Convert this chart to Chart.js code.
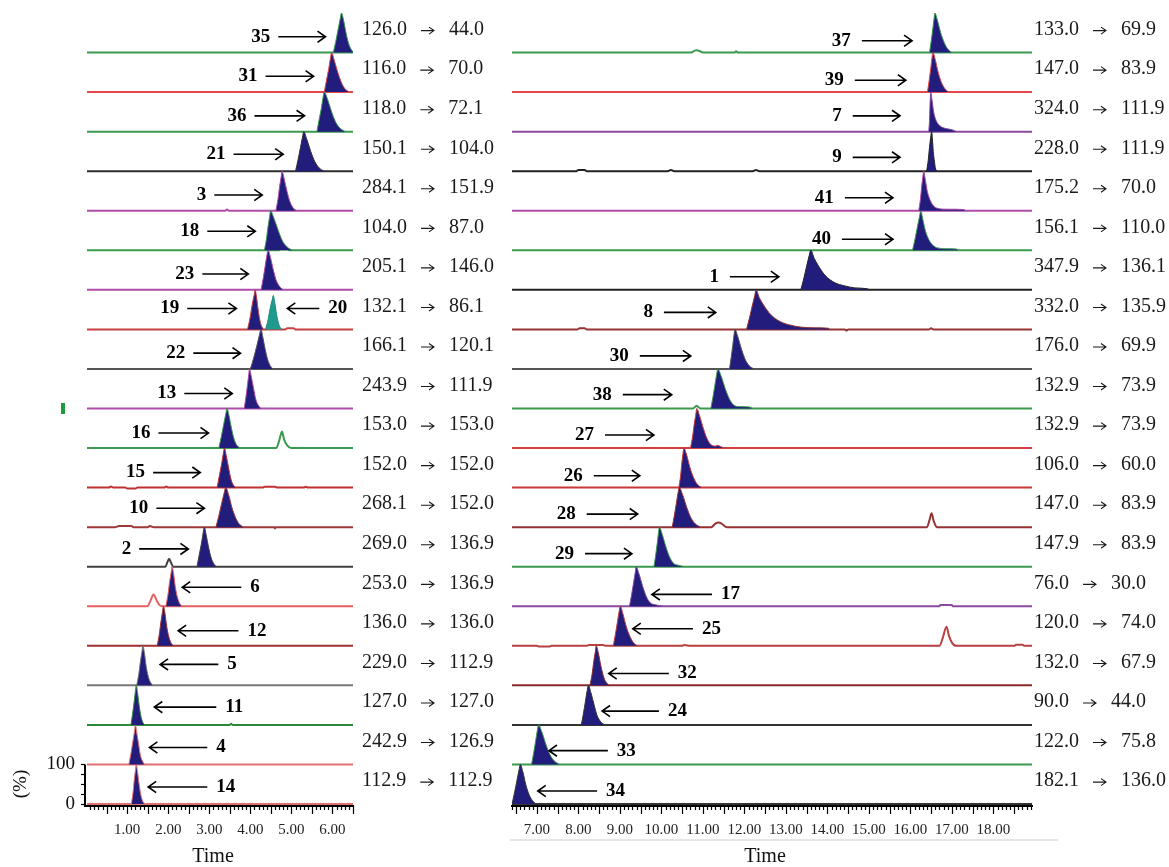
<!DOCTYPE html>
<html>
<head>
<meta charset="utf-8">
<title>MRM chromatograms</title>
<script src="https://cdn.jsdelivr.net/npm/chart.js@4.4.1/dist/chart.umd.min.js"></script>
<style>
  html, body { margin: 0; padding: 0; background: #fff; overflow: hidden; }
  #wrap { position: relative; width: 1169px; height: 867px; }
  #wrap canvas { position: absolute; left: 0; top: 0; }
</style>
</head>
<body>
<div id="wrap">
  <canvas id="leftChart" width="1169" height="867"></canvas>
  <canvas id="rightChart" width="1169" height="867"></canvas>
</div>
<script>
// all trace lists run top to bottom

// ---- left panel ----
const leftCompounds = ['35', '31', '36', '21', '3', '18', '23', '19', '22', '13', '16', '15', '10', '2', '6', '12', '5', '11', '4', '14'];
const leftPrecursor = ['126.0', '116.0', '118.0', '150.1', '284.1', '104.0', '205.1', '132.1', '166.1', '243.9', '153.0', '152.0', '268.1', '269.0', '253.0', '136.0', '229.0', '127.0', '242.9', '112.9'];
const leftProduct = ['44.0', '70.0', '72.1', '104.0', '151.9', '87.0', '146.0', '86.1', '120.1', '111.9', '153.0', '152.0', '152.0', '136.9', '136.9', '136.0', '112.9', '127.0', '126.9', '112.9'];
const leftTimeTicks = [1, 2, 3, 4, 5, 6];

// [time (min), relative intensity (%)]
const leftPeaks = [
    [[6.02, 0], [6.08, 28], [6.14, 60], [6.19, 86], [6.22, 100], [6.27, 82], [6.33, 50], [6.39, 24], [6.45, 9], [6.52, 0]],   // 35
    [[5.80, 0], [5.85, 28], [5.91, 60], [5.95, 86], [5.98, 100], [6.04, 82], [6.13, 50], [6.22, 24], [6.30, 9], [6.41, 0]],   // 31
    [[5.62, 0], [5.67, 28], [5.73, 60], [5.77, 86], [5.80, 100], [5.88, 82], [5.98, 50], [6.08, 24], [6.18, 9], [6.31, 0]],   // 36
    [[5.10, 0], [5.16, 28], [5.22, 60], [5.27, 86], [5.30, 100], [5.37, 82], [5.47, 50], [5.57, 24], [5.67, 9], [5.79, 0]],   // 21
    [[4.62, 0], [4.67, 28], [4.71, 60], [4.75, 86], [4.77, 100], [4.82, 82], [4.89, 50], [4.96, 24], [5.03, 9], [5.12, 0]],   // 3
    [[4.34, 0], [4.39, 28], [4.43, 60], [4.47, 86], [4.49, 100], [4.57, 82], [4.68, 50], [4.78, 24], [4.89, 9], [5.02, 0]],   // 18
    [[4.26, 0], [4.31, 28], [4.36, 60], [4.40, 86], [4.43, 100], [4.49, 82], [4.56, 50], [4.63, 24], [4.71, 9], [4.80, 0]],   // 23
    [[3.93, 0], [3.99, 28], [4.04, 60], [4.09, 86], [4.12, 100], [4.15, 82], [4.19, 50], [4.23, 24], [4.27, 9], [4.32, 0]],   // 19
    [[4.00, 0], [4.08, 28], [4.16, 60], [4.22, 86], [4.26, 100], [4.30, 82], [4.36, 50], [4.42, 24], [4.48, 9], [4.55, 0]],   // 22
    [[3.85, 0], [3.89, 28], [3.93, 60], [3.96, 86], [3.98, 100], [4.02, 82], [4.08, 50], [4.13, 24], [4.19, 9], [4.26, 0]],   // 13
    [[3.23, 0], [3.29, 28], [3.35, 60], [3.40, 86], [3.43, 100], [3.48, 82], [3.54, 50], [3.60, 24], [3.66, 9], [3.74, 0]],   // 16
    [[3.19, 0], [3.24, 28], [3.30, 60], [3.34, 86], [3.37, 100], [3.41, 82], [3.47, 50], [3.52, 24], [3.57, 9], [3.64, 0]],   // 15
    [[3.16, 0], [3.23, 28], [3.30, 60], [3.36, 86], [3.40, 100], [3.47, 82], [3.55, 50], [3.64, 24], [3.72, 9], [3.83, 0]],   // 10
    [[2.70, 0], [2.75, 28], [2.81, 60], [2.85, 86], [2.88, 100], [2.92, 82], [2.98, 50], [3.04, 24], [3.10, 9], [3.17, 0]],   // 2
    [[1.94, 0], [1.99, 28], [2.03, 60], [2.07, 86], [2.09, 100], [2.13, 82], [2.17, 50], [2.22, 24], [2.27, 9], [2.33, 0]],   // 6
    [[1.73, 0], [1.78, 28], [1.82, 60], [1.86, 86], [1.88, 100], [1.92, 82], [1.96, 50], [2.01, 24], [2.06, 9], [2.12, 0]],   // 12
    [[1.23, 0], [1.28, 28], [1.32, 60], [1.36, 86], [1.38, 100], [1.42, 82], [1.46, 50], [1.51, 24], [1.56, 9], [1.62, 0]],   // 5
    [[1.09, 0], [1.13, 28], [1.17, 60], [1.20, 86], [1.22, 100], [1.25, 82], [1.29, 50], [1.33, 24], [1.37, 9], [1.42, 0]],   // 11
    [[1.04, 0], [1.09, 28], [1.14, 60], [1.18, 86], [1.20, 100], [1.23, 82], [1.28, 50], [1.32, 24], [1.37, 9], [1.42, 0]],   // 4
    [[1.10, 0], [1.14, 28], [1.17, 60], [1.20, 86], [1.22, 100], [1.25, 82], [1.29, 50], [1.33, 24], [1.37, 9], [1.42, 0]]    // 14
];
// compound 20 shares the 132.1 -> 86.1 trace with 19
const peak20 = [[4.37, 0], [4.43, 24], [4.48, 52], [4.53, 74], [4.56, 86], [4.59, 70], [4.63, 43], [4.67, 21], [4.71, 8], [4.76, 0]];
const peak20Trace = 7;

// small baseline features (unfilled)
const leftBumps = [
    [], [], [], [],
    [[3.38, 0], [3.43, 3], [3.48, 0]],
    [[4.70, 0], [4.72, 2], [4.92, 2], [4.94, 0]],
    [],
    [[4.85, 0], [4.90, 3], [5.05, 3], [5.10, 0]],
    [], [],
    [[4.63, 0], [4.70, 18], [4.77, 42], [4.82, 22], [4.90, 6], [5.00, 0]],
    [[0.55, 0], [0.60, 3], [0.66, 0], [0.95, 0], [1.00, -2], [1.20, -2], [1.25, 0], [1.90, 0], [1.95, 3], [2.00, 0], [4.30, 0], [4.35, 2], [4.60, 2], [4.65, 0], [5.30, 0], [5.35, 2], [5.40, 0]],
    [[0.70, 0], [0.80, 3], [1.10, 3], [1.15, 0], [1.50, 0], [1.55, 3], [1.65, 0], [4.58, 0], [4.60, -3], [4.62, 0]],
    [[1.93, 0], [1.98, 12], [2.02, 20], [2.06, 12], [2.12, 0]],
    [[1.49, 0], [1.57, 15], [1.64, 30], [1.72, 14], [1.80, 2], [1.88, 0]],
    [], [],
    [[3.49, 0], [3.53, 3], [3.57, 0]],
    [], []
];

// ---- right panel ----
const rightCompounds = ['37', '39', '7', '9', '41', '40', '1', '8', '30', '38', '27', '26', '28', '29', '17', '25', '32', '24', '33', '34'];
const rightPrecursor = ['133.0', '147.0', '324.0', '228.0', '175.2', '156.1', '347.9', '332.0', '176.0', '132.9', '132.9', '106.0', '147.0', '147.9', '76.0', '120.0', '132.0', '90.0', '122.0', '182.1'];
const rightProduct = ['69.9', '83.9', '111.9', '111.9', '70.0', '110.0', '136.1', '135.9', '69.9', '73.9', '73.9', '60.0', '83.9', '83.9', '30.0', '74.0', '67.9', '44.0', '75.8', '136.0'];
const rightTimeTicks = [7, 8, 9, 10, 11, 12, 13, 14, 15, 16, 17, 18];

const rightPeaks = [
    [[16.46, 0], [16.50, 28], [16.54, 60], [16.57, 86], [16.59, 100], [16.65, 82], [16.73, 50], [16.82, 24], [16.90, 9], [17.00, 0]],   // 37
    [[16.41, 0], [16.45, 28], [16.49, 60], [16.52, 86], [16.54, 100], [16.60, 82], [16.67, 50], [16.75, 24], [16.83, 9], [16.92, 0]],   // 39
    [[16.44, 0], [16.46, 28], [16.47, 60], [16.48, 86], [16.49, 100], [16.52, 80], [16.56, 50], [16.62, 28], [16.72, 14], [16.85, 8], [17.00, 5], [17.11, 0]],   // 7
    [[16.39, 0], [16.43, 28], [16.46, 60], [16.49, 86], [16.51, 100], [16.53, 82], [16.55, 50], [16.58, 24], [16.60, 9], [16.63, 0]],   // 9
    [[16.20, 0], [16.24, 28], [16.27, 60], [16.30, 86], [16.32, 100], [16.36, 78], [16.41, 48], [16.48, 26], [16.56, 12], [16.66, 6], [16.90, 4], [17.30, 3], [17.32, 0]],   // 41
    [[16.05, 0], [16.11, 28], [16.17, 60], [16.22, 86], [16.25, 100], [16.30, 78], [16.36, 50], [16.44, 28], [16.54, 13], [16.66, 6], [16.90, 4], [17.12, 3], [17.15, 0]],   // 40
    [[13.36, 0], [13.43, 28], [13.50, 60], [13.56, 86], [13.60, 100], [13.68, 80], [13.77, 63], [13.94, 37], [14.18, 18], [14.42, 10], [14.66, 5], [14.95, 3], [15.02, 0]],   // 1
    [[12.05, 0], [12.12, 28], [12.19, 60], [12.25, 86], [12.28, 100], [12.36, 80], [12.46, 62], [12.63, 38], [12.86, 20], [13.10, 11], [13.35, 6], [13.70, 4], [14.03, 3], [14.05, 0]],   // 8
    [[11.64, 0], [11.68, 28], [11.72, 60], [11.75, 86], [11.77, 100], [11.84, 82], [11.93, 50], [12.02, 24], [12.11, 9], [12.23, 0]],   // 30
    [[11.19, 0], [11.24, 28], [11.29, 60], [11.33, 86], [11.36, 100], [11.44, 82], [11.54, 50], [11.64, 24], [11.74, 9], [11.86, 5], [12.16, 3], [12.18, 0]],   // 38
    [[10.70, 0], [10.75, 28], [10.79, 60], [10.83, 86], [10.85, 100], [10.92, 82], [11.01, 50], [11.10, 24], [11.19, 9], [11.30, 5], [11.36, 7], [11.42, 4], [11.52, 0]],   // 27
    [[10.42, 0], [10.46, 28], [10.49, 60], [10.52, 86], [10.54, 100], [10.61, 82], [10.69, 50], [10.78, 24], [10.86, 9], [10.97, 0]],   // 26
    [[10.26, 0], [10.31, 28], [10.36, 60], [10.40, 86], [10.43, 100], [10.51, 82], [10.61, 50], [10.71, 24], [10.81, 9], [10.94, 0]],   // 28
    [[9.82, 0], [9.86, 28], [9.90, 60], [9.93, 86], [9.95, 100], [10.02, 82], [10.11, 50], [10.20, 24], [10.29, 9], [10.40, 4], [10.55, 0]],   // 29
    [[9.23, 0], [9.28, 28], [9.33, 60], [9.37, 86], [9.39, 100], [9.46, 82], [9.55, 50], [9.64, 24], [9.73, 9], [9.85, 4], [10.05, 0]],   // 17
    [[8.84, 0], [8.89, 28], [8.94, 60], [8.98, 86], [9.01, 100], [9.07, 82], [9.15, 50], [9.24, 24], [9.32, 9], [9.42, 0]],   // 25
    [[8.28, 0], [8.33, 28], [8.37, 60], [8.41, 86], [8.43, 100], [8.48, 82], [8.54, 50], [8.60, 24], [8.66, 9], [8.74, 0]],   // 32
    [[8.07, 0], [8.12, 28], [8.17, 60], [8.21, 86], [8.24, 100], [8.30, 82], [8.38, 50], [8.45, 24], [8.53, 9], [8.63, 0]],   // 24
    [[6.87, 0], [6.92, 28], [6.97, 60], [7.01, 86], [7.04, 100], [7.12, 82], [7.22, 50], [7.32, 24], [7.42, 9], [7.55, 0]],   // 33
    [[6.40, 0], [6.46, 28], [6.52, 60], [6.57, 86], [6.60, 100], [6.66, 82], [6.73, 50], [6.81, 24], [6.89, 9], [6.98, 0]]    // 34
];

const rightBumps = [
    [[10.72, 0], [10.80, 5], [10.85, 6], [10.92, 4], [11.00, 0], [11.76, 0], [11.80, 3], [11.84, 0]],
    [], [],
    [[7.95, 0], [8.00, 3], [8.15, 3], [8.20, 0], [10.15, 0], [10.23, 3], [10.31, 0], [12.20, 0], [12.28, 3], [12.36, 0]],
    [], [], [],
    [[7.98, 0], [8.03, 3], [8.15, 3], [8.20, 0], [14.42, 0], [14.46, -3], [14.50, 0], [16.45, 0], [16.50, 3], [16.55, 0]],
    [],
    [[10.76, 0], [10.85, 7], [10.94, 0]],
    [], [],
    [[11.20, 0], [11.30, 9], [11.38, 12], [11.46, 8], [11.58, 0], [16.40, 0], [16.46, 18], [16.51, 35], [16.56, 16], [16.64, 0]],
    [],
    [[16.70, 0], [16.72, 3], [17.00, 3], [17.02, 0]],
    [[7.00, 0], [7.05, -2], [7.30, -2], [7.35, 0], [8.20, 0], [8.25, 2], [8.60, 2], [8.65, 0], [10.50, 0], [10.55, 2], [10.70, 0], [16.70, 0], [16.78, 20], [16.87, 48], [16.93, 25], [17.00, 8], [17.10, 0], [18.50, 0], [18.55, 3], [18.70, 3], [18.75, 0]],
    [], [], [], []
];

// ---- styles and label layout ----
const SERIF = '"Liberation Serif", "DejaVu Serif", serif';
const peakFill = '#221d7c';
const peak20Fill = '#1f9a8c';
const GREEN = '#3a9a4e', RED = '#e0484c', MAG = '#b04caa', PURP = '#8a4aa0', DARK = '#2e2e2e', GREY = '#555555', MAROON = '#953232';
const leftColors = [GREEN, RED, GREEN, DARK, MAG, GREEN, MAG, '#c84040', GREY, MAG, GREEN, '#c03030', '#a03838', '#404040', '#e86060', '#a03030', '#777777', '#2a8a3a', '#e07070', '#e07070'];
const rightColors = [GREEN, RED, PURP, '#222222', MAG, GREEN, '#222222', MAROON, GREY, GREEN, '#d04040', '#c83838', MAROON, GREEN, PURP, '#b84040', '#8a2a2a', '#333333', GREEN, '#333333'];

// arrow tail / tip in minutes, height above the trace baseline in %
const leftArrowTail = [4.68, 4.37, 4.10, 3.59, 3.12, 2.95, 2.83, 2.46, 2.61, 2.39, 1.76, 1.63, 1.71, 1.29, 3.78, 3.71, 3.22, 3.17, 2.95, 2.95];
const leftArrowTip = [5.83, 5.54, 5.32, 4.80, 4.29, 4.12, 3.95, 3.66, 3.76, 3.56, 2.98, 2.78, 2.88, 2.49, 2.34, 2.24, 1.80, 1.66, 1.54, 1.51];
const leftArrowLift = [40, 40, 40, 43, 40, 48, 40, 53, 40, 38, 38, 38, 48, 45, 48, 38, 53, 45, 43, 43];
const rightArrowTail = [14.83, 14.66, 14.61, 14.61, 14.42, 14.35, 11.65, 10.06, 9.48, 9.07, 8.64, 8.37, 8.20, 8.16, 11.22, 10.76, 10.18, 9.94, 8.71, 8.45];
const rightArrowTip = [16.04, 15.89, 15.75, 15.75, 15.58, 15.58, 12.83, 11.31, 10.71, 10.25, 9.82, 9.48, 9.43, 9.29, 9.77, 9.31, 8.73, 8.57, 7.29, 7.02];
const rightArrowLift = [30, 30, 40, 35, 33, 28, 33, 43, 33, 35, 33, 30, 33, 33, 30, 43, 30, 35, 35, 33];
const arrow20 = {name: '20', tail: 5.68, tip: 4.90, lift: 53};

const TRACE = 100;

const leftPanel = {
    compounds: leftCompounds, precursor: leftPrecursor, product: leftProduct,
    peaks: leftPeaks, bumps: leftBumps, colors: leftColors, timeTicks: leftTimeTicks,
    tail: leftArrowTail, tip: leftArrowTip, lift: leftArrowLift,
    min: 0.02, max: 6.5, padLeft: 27, padRight: 1169 - 353, yAxis: true, yWidth: 60,
    textX: 362, gapRight: 8, gapLeft: 9
};
const rightPanel = {
    compounds: rightCompounds, precursor: rightPrecursor, product: rightProduct,
    peaks: rightPeaks, bumps: rightBumps, colors: rightColors, timeTicks: rightTimeTicks,
    tail: rightArrowTail, tip: rightArrowTip, lift: rightArrowLift,
    min: 6.4, max: 18.93, padLeft: 512, padRight: 1169 - 1032, yAxis: false, yWidth: 0,
    textX: 1034, gapRight: 11, gapLeft: 9
};

function drawArrow(ctx, x1, x2, y, head) {
    const dir = x2 > x1 ? 1 : -1;
    ctx.beginPath();
    ctx.moveTo(x1, y);
    ctx.lineTo(x2, y);
    ctx.moveTo(x2 - dir * head, y - head * 0.7);
    ctx.lineTo(x2, y);
    ctx.lineTo(x2 - dir * head, y + head * 0.7);
    ctx.stroke();
}

function labelArrow(ctx, panel, xs, ys, name, tail, tip, yVal) {
    const y = ys.getPixelForValue(yVal);
    const x1 = xs.getPixelForValue(tail), x2 = xs.getPixelForValue(tip);
    ctx.strokeStyle = '#000';
    ctx.lineWidth = 1.6;
    drawArrow(ctx, x1, x2, y, 8);
    ctx.fillStyle = '#000';
    ctx.font = 'bold 19px ' + SERIF;
    ctx.textBaseline = 'middle';
    if (x2 > x1) {
        ctx.textAlign = 'right';
        ctx.fillText(name, x1 - panel.gapRight, y);
    } else {
        ctx.textAlign = 'left';
        ctx.fillText(name, x1 + panel.gapLeft, y);
    }
}

function annotations(panel) {
    return {
        id: 'annotations',
        afterDraw(chart) {
            const ctx = chart.ctx;
            const xs = chart.scales.x, ys = chart.scales.y;
            const area = chart.chartArea;
            const n = panel.compounds.length;
            ctx.save();

            // minor / major time ticks
            ctx.strokeStyle = '#000';
            ctx.lineWidth = 1.2;
            for (let i = Math.ceil(panel.min * 10); i <= Math.floor(panel.max * 10); i++) {
                const px = Math.round(xs.getPixelForValue(i / 10)) + 0.5;
                const len = i % 5 === 0 ? 8 : 4;
                ctx.beginPath();
                ctx.moveTo(px, area.bottom);
                ctx.lineTo(px, area.bottom + len);
                ctx.stroke();
            }

            // axis title, sitting a little left of the axis centre as in the figure
            ctx.fillStyle = '#111';
            ctx.font = '20px ' + SERIF;
            ctx.textAlign = 'center';
            ctx.textBaseline = 'middle';
            ctx.fillText('Time', (area.left + area.right) / 2 - 7, 857);

            if (panel.yAxis) {
                // short intensity axis for the bottom trace
                const ax = area.left - 2;
                ctx.lineWidth = 2;
                ctx.beginPath();
                ctx.moveTo(ax, area.bottom + 1);
                ctx.lineTo(ax, ys.getPixelForValue(TRACE));
                ctx.stroke();
                ctx.lineWidth = 1.2;
                [0, 25, 50, 75, 100].forEach(v => {
                    const py = Math.round(ys.getPixelForValue(v)) + 0.5;
                    ctx.beginPath();
                    ctx.moveTo(ax - 4, py);
                    ctx.lineTo(ax, py);
                    ctx.stroke();
                });
                ctx.save();
                ctx.translate(21, 784);
                ctx.rotate(-Math.PI / 2);
                ctx.fillStyle = '#111';
                ctx.font = '19px ' + SERIF;
                ctx.textAlign = 'center';
                ctx.textBaseline = 'middle';
                ctx.fillText('(%)', 0, 0);
                ctx.restore();
                ctx.fillStyle = '#1f9a3a';
                ctx.fillRect(61, 403, 4, 11);
            } else {
                ctx.strokeStyle = '#e6e6e6';
                ctx.lineWidth = 2;
                ctx.beginPath();
                ctx.moveTo(510, 840);
                ctx.lineTo(1058, 840);
                ctx.stroke();
            }

            panel.compounds.forEach((name, k) => {
                const base = (n - 1 - k) * TRACE;
                labelArrow(ctx, panel, xs, ys, name, panel.tail[k], panel.tip[k], base + panel.lift[k]);

                // transition text: precursor -> product
                const ty = ys.getPixelForValue(base + 58);
                ctx.fillStyle = '#1a1a1a';
                ctx.font = '20px ' + SERIF;
                ctx.textAlign = 'left';
                ctx.textBaseline = 'middle';
                let tx = panel.textX;
                ctx.fillText(panel.precursor[k], tx, ty);
                tx += ctx.measureText(panel.precursor[k]).width + 14;
                ctx.strokeStyle = '#1a1a1a';
                ctx.lineWidth = 1.1;
                drawArrow(ctx, tx, tx + 13, ty + 1, 5);
                tx += 13 + 15;
                ctx.fillText(panel.product[k], tx, ty);
            });

            if (panel === leftPanel) {
                const base = (n - 1 - peak20Trace) * TRACE;
                labelArrow(ctx, panel, xs, ys, arrow20.name, arrow20.tail, arrow20.tip, base + arrow20.lift);
            }
            ctx.restore();
        }
    };
}

function buildChart(canvasId, panel) {
    const n = panel.compounds.length;
    const datasets = [];
    panel.compounds.forEach((name, k) => {
        const base = (n - 1 - k) * TRACE;
        const lift = p => [p[0], base + p[1]];
        datasets.push({
            label: name,
            data: panel.peaks[k].map(lift),
            borderColor: panel.colors[k],
            borderWidth: 1,
            backgroundColor: peakFill,
            fill: {value: base},
            order: 0
        });
        datasets.push({
            label: name + ' trace',
            data: [[panel.min, 0], ...panel.bumps[k], [panel.max, 0]].map(lift),
            borderColor: panel.colors[k],
            borderWidth: 2,
            fill: false,
            order: 1
        });
    });
    if (panel === leftPanel) {
        const base = (n - 1 - peak20Trace) * TRACE;
        datasets.push({
            label: '20',
            data: peak20.map(p => [p[0], base + p[1]]),
            borderColor: '#1a8a7c',
            borderWidth: 1,
            backgroundColor: peak20Fill,
            fill: {value: base},
            order: 0
        });
    }

    return new Chart(document.getElementById(canvasId), {
        type: 'line',
        data: {datasets},
        options: {
            responsive: false,
            animation: false,
            devicePixelRatio: 1,
            events: [],
            layout: {padding: {left: panel.padLeft, right: panel.padRight, top: 13, bottom: 0}},
            elements: {
                point: {radius: 0},
                line: {cubicInterpolationMode: 'monotone'}
            },
            plugins: {legend: {display: false}, tooltip: {enabled: false}},
            scales: {
                x: {
                    type: 'linear',
                    min: panel.min,
                    max: panel.max,
                    afterBuildTicks: s => { s.ticks = panel.timeTicks.map(v => ({value: v})); },
                    afterFit: s => { s.height = 61; s.paddingLeft = 0; s.paddingRight = 0; },
                    ticks: {
                        callback: v => Number(v).toFixed(2),
                        autoSkip: false,
                        maxRotation: 0,
                        padding: 15,
                        color: '#222',
                        font: {family: SERIF, size: 15}
                    },
                    grid: {drawOnChartArea: false, drawTicks: false},
                    border: {color: '#000', width: 2}
                },
                y: {
                    type: 'linear',
                    min: -5,
                    max: n * TRACE,
                    display: panel.yAxis,
                    afterBuildTicks: s => { s.ticks = [{value: 0}, {value: TRACE}]; },
                    afterFit: s => { s.width = panel.yWidth; s.paddingTop = 0; s.paddingBottom = 0; },
                    ticks: {padding: 12, color: '#111', font: {family: SERIF, size: 19}},
                    grid: {drawOnChartArea: false, drawTicks: false},
                    border: {display: false}
                }
            }
        },
        plugins: [annotations(panel)]
    });
}

document.addEventListener('DOMContentLoaded', () => {
    buildChart('leftChart', leftPanel);
    buildChart('rightChart', rightPanel);
});
</script>
</body>
</html>
